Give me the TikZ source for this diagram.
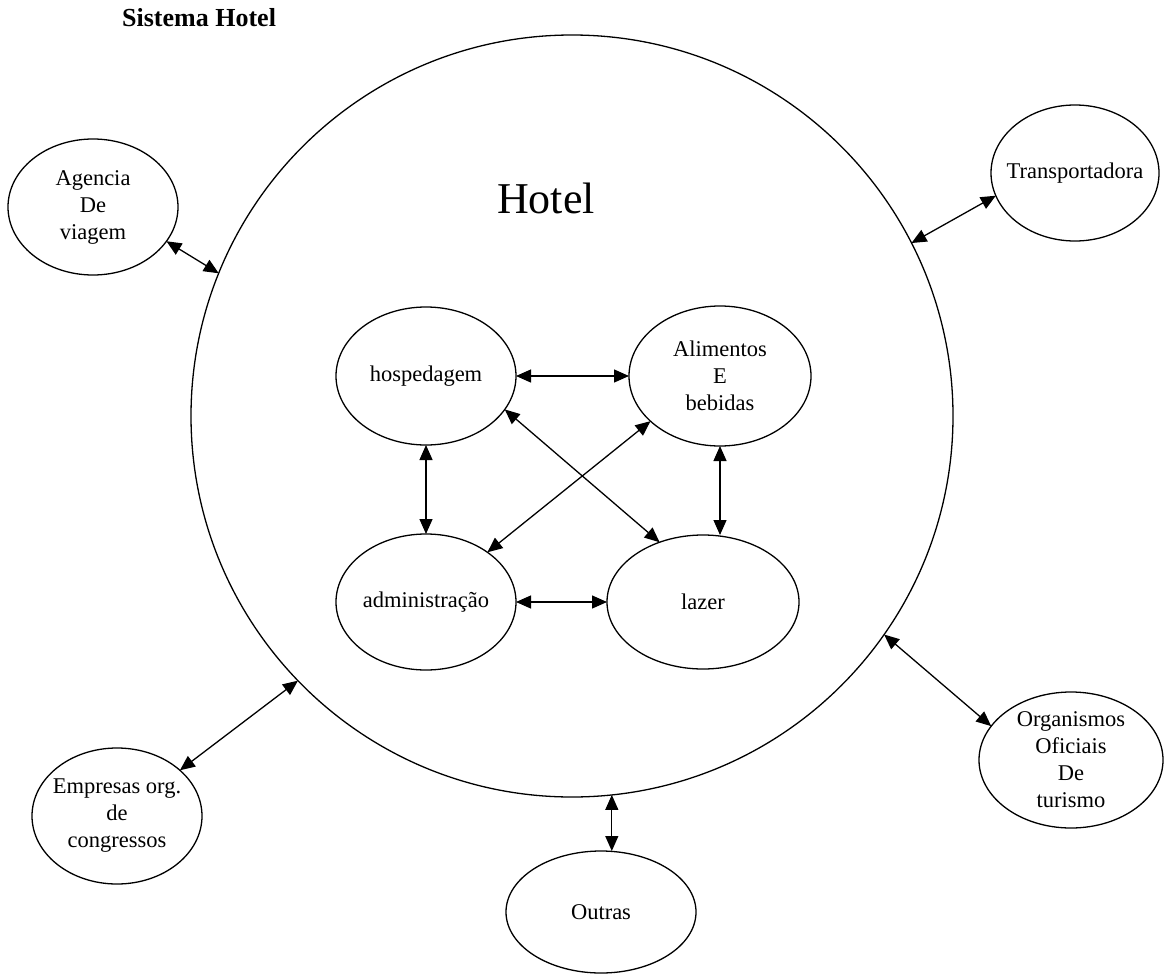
\documentclass[tikz,border=0pt]{standalone}
\usepackage{fontspec}
\setmainfont{Liberation Serif}
\usetikzlibrary{shapes.geometric,arrows.meta}
\begin{document}
\begin{tikzpicture}[x=1pt,y=-1pt,
  unit/.style={draw, ellipse, line width=1.3pt, inner sep=-10pt, outer sep=0pt,
    align=center, font=\fontsize{22.5}{27}\selectfont},
  system/.style={draw, circle, line width=1.3pt, inner sep=0pt, outer sep=0pt},
  link/.style={{Triangle[length=15pt,width=13pt]}-{Triangle[length=15pt,width=13pt]},
    line width=1.3pt}]
  \path[use as bounding box] (0,0) rectangle (1164,974);

  % title and the hotel system boundary
  \node[font=\bfseries\fontsize{26}{30}\selectfont, anchor=base west, inner sep=0pt] (title) at (122,27) {Sistema Hotel};
  \node[system, minimum size=762pt] (sys) at (572,416) {};
  \node[font=\fontsize{44}{50}\selectfont, anchor=base, inner sep=0pt] (hotelname) at (546,213) {Hotel};

  % internal departments
  \node[unit, minimum width=180pt, minimum height=138pt] (hosp) at (426,376) {hospedagem};
  \node[unit, minimum width=182pt, minimum height=140pt] (alim) at (720,376) {Alimentos\\E\\bebidas};
  \node[unit, minimum width=180pt, minimum height=136pt] (adm) at (426,602) {administração};
  \node[unit, minimum width=192pt, minimum height=134pt] (lazer) at (703,602) {lazer};

  % external partners
  \node[unit, minimum width=170pt, minimum height=136pt] (agencia) at (93,207) {Agencia\\De\\viagem};
  \node[unit, minimum width=168pt, minimum height=136pt] (transp) at (1075,173) {Transportadora};
  \node[unit, minimum width=170pt, minimum height=136pt] (empresas) at (117,816) {Empresas org.\\de\\congressos};
  \node[unit, minimum width=190pt, minimum height=122pt] (outras) at (601,912) {Outras};
  \node[unit, minimum width=184pt, minimum height=136pt] (org) at (1071,760) {Organismos\\Oficiais\\De\\turismo};

  % links between departments
  \draw[link] (hosp.east) -- (alim.west);
  \draw[link] (hosp.south) -- (adm.north);
  \draw[link] (alim.south) -- (alim.south |- lazer.north);
  \draw[link] (adm.east) -- (lazer.west);
  \draw[link] (hosp.-23.4) -- (lazer.126);
  \draw[link] (alim.213.7) -- (adm.39);

  % links between the hotel and its partners
  \draw[link] (agencia.-25) -- (sys.158);
  \draw[link] (transp.196) -- (sys.27.4);
  \draw[link] (empresas.36) -- (sys.224.6);
  \draw[link] (sys.-84.7) -- (sys.-84.7 |- outras.north);
  \draw[link] (org.157) -- (sys.-35.5);
\end{tikzpicture}
\end{document}
